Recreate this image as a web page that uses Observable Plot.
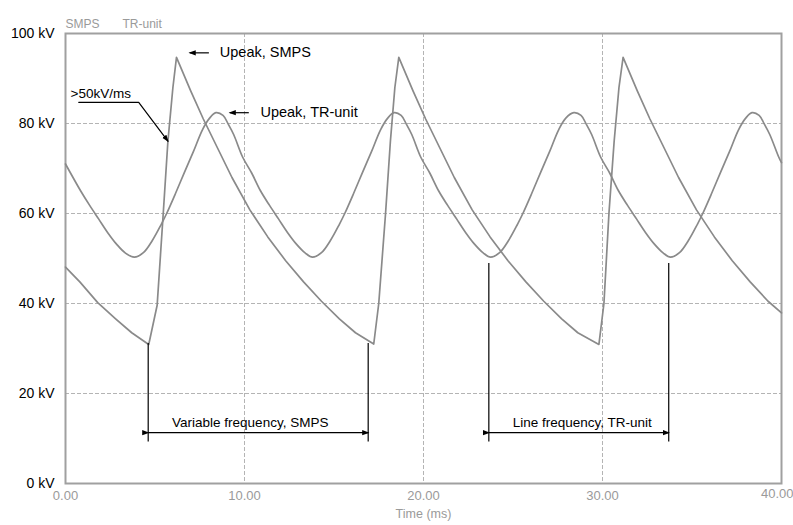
<!DOCTYPE html>
<html><head><meta charset="utf-8">
<script src="https://cdn.jsdelivr.net/npm/d3@7"></script>
<script src="https://cdn.jsdelivr.net/npm/@observablehq/plot@0.6"></script>
<style>body{margin:0;background:#fff;}</style>
</head><body><div id="chart"></div>
<script>
// ---- data ----
const smpsTime = [0, 0.8, 1.8, 2.8, 3.7, 4.65, 5.12, 5.46, 5.72, 6.0, 6.2, 7.0, 7.7, 8.5, 9.3, 10.3, 11.3, 12.3, 13.3, 14.3, 15.3, 16.2, 17.22, 17.5, 17.88, 18.15, 18.4, 18.62, 19.42, 20.12, 20.92, 21.72, 22.72, 23.72, 24.72, 25.72, 26.72, 27.72, 28.62, 29.8, 30.08, 30.36, 30.65, 30.92, 31.15, 31.95, 32.65, 33.45, 34.25, 35.25, 36.25, 37.25, 38.25, 39.25, 40];
const smpsKV = [48.1, 44.8, 40.2, 36.6, 33.5, 30.9, 39.6, 60, 76, 88, 94.7, 87.2, 81, 74.5, 68, 60.8, 54.8, 49.5, 44.8, 40.5, 36.6, 33.5, 31.0, 40, 60, 76, 88, 94.7, 87.2, 81, 74.5, 68, 60.8, 54.8, 49.5, 44.8, 40.5, 36.6, 33.5, 30.9, 40, 60, 76, 88, 94.7, 87.2, 81, 74.5, 68, 60.8, 54.8, 49.5, 44.8, 40.5, 37.9];

const trTime = [0, 0.85, 1.35, 1.85, 2.35, 2.85, 3.35, 3.85,
  4.35, 4.85, 5.35, 5.65, 6.15, 6.65, 7.15, 7.65, 8.05, 8.4,
  8.8, 9.1, 9.4, 9.9, 10.4, 10.9, 11.4, 11.9, 12.4, 12.9, 13.4, 13.8,
  14.3, 14.8, 15.3, 15.6, 16.1, 16.6, 17.1, 17.6, 18.0, 18.35,
  18.75, 19.05, 19.35, 19.85, 20.35, 20.85, 21.35, 21.85, 22.35, 22.85, 23.35, 23.75,
  24.25, 24.75, 25.25, 25.55, 26.05, 26.55, 27.05, 27.55, 27.95, 28.4,
  28.8, 29.1, 29.4, 29.9, 30.4, 30.9, 31.4, 31.9, 32.4, 32.9, 33.4, 33.8,
  34.3, 34.8, 35.3, 35.6, 36.1, 36.6, 37.1, 37.6, 38.0, 38.35,
  38.75, 39.05, 39.35, 39.85, 40];
const trKV = [71.0, 65, 61.8, 58.8, 55.8, 53.2, 51.2, 50.3,
  51.3, 54.0, 57.6, 60.0, 64.5, 69.2, 73.8, 78.6, 81.2, 82.4,
  81.8, 79.8, 77.5, 72.5, 69, 65, 61.8, 58.8, 55.8, 53.2, 51.2, 50.3,
  51.3, 54.0, 57.6, 60.0, 64.5, 69.2, 73.8, 78.6, 81.2, 82.4,
  81.8, 79.8, 77.5, 72.5, 69, 65, 61.8, 58.8, 55.8, 53.2, 51.2, 50.3,
  51.3, 54.0, 57.6, 60.0, 64.5, 69.2, 73.8, 78.6, 81.2, 82.4,
  81.8, 79.8, 77.5, 72.5, 69, 65, 61.8, 58.8, 55.8, 53.2, 51.2, 50.3,
  51.3, 54.0, 57.6, 60.0, 64.5, 69.2, 73.8, 78.6, 81.2, 82.4,
  81.8, 79.8, 77.5, 72.5, 71.3];

const xTicks = [0, 10, 20, 30, 40];
const yTicks = [0, 20, 40, 60, 80, 100];
const legendLabels = ["SMPS", "TR-unit"];
const xLabel = "Time (ms)";

// annotations (data coordinates)
const peakLabels = ["Upeak, SMPS", "Upeak, TR-unit"];
const peakArrowFrom = [8.01, 10.24];
const peakArrowTo = [6.94, 9.18];
const peakKV = [95.7, 82.4];
const peakLabelTime = [8.62, 10.89];

const slopeLabel = ">50kV/ms";
const slopeLabelTime = 0.28, slopeLabelKV = 86.7;
const slopeTime = [0.74, 4.09, 5.72];
const slopeKV = [84.7, 84.7, 76.1];

const spanLabels = ["Variable frequency, SMPS", "Line frequency, TR-unit"];
const spanStart = [4.62, 23.65];
const spanEnd = [16.91, 33.70];
const spanTopKV = [31.1, 48.9];
const spanBottomKV = 9.2;
const spanArrowKV = 11.3;
const spanLabelKV = 13.6;
const spanLabelTime = [10.32, 28.87];

// ---- build tables ----
const smps = smpsTime.map((t, i) => ({t, kV: smpsKV[i]}));
const tr = trTime.map((t, i) => ({t, kV: trKV[i]}));
const peaks = peakLabels.map((label, i) => ({label, x1: peakArrowFrom[i], x2: peakArrowTo[i], y: peakKV[i], tx: peakLabelTime[i]}));
const slope = slopeTime.map((t, i) => ({t, kV: slopeKV[i]}));
const spans = spanLabels.map((label, i) => ({label, a: spanStart[i], b: spanEnd[i], top: spanTopKV[i], tx: spanLabelTime[i]}));
const rules = spans.flatMap(s => [{x: s.a, top: s.top}, {x: s.b, top: s.top}]);
const xMax = xTicks[xTicks.length - 1];

const font = "'Liberation Sans', Arial, sans-serif";
const curveColor = "#8a8a8a";
const tickFmt = d => d.toFixed(2);

const chart = Plot.plot({
  width: 793, height: 525,
  marginTop: 33, marginRight: 12, marginBottom: 42, marginLeft: 65,
  style: {fontFamily: font, background: "#fff", overflow: "visible"},
  x: {domain: [0, 40]},
  y: {domain: [0, 100]},
  marks: [
    Plot.ruleX(xTicks.slice(1, -1), {stroke: "#b4b4b4", strokeWidth: 1, strokeDasharray: "4,2"}),
    Plot.ruleY(yTicks.slice(1, -1), {stroke: "#b4b4b4", strokeWidth: 1, strokeDasharray: "4,2"}),
    Plot.frame({stroke: "#a0a0a0", strokeWidth: 2}),
    Plot.axisX({ticks: xTicks.slice(0, -1), tickFormat: tickFmt, tickSize: 0, tickPadding: 7, label: null, color: "#9a9a9a", fontSize: 13}),
    Plot.text([xMax], {x: d => d, text: tickFmt, frameAnchor: "bottom", dy: 14, dx: 12, textAnchor: "end", fill: "#9a9a9a", fontSize: 13}),
    Plot.axisY({ticks: yTicks, tickFormat: d => `${d} kV`, tickSize: 0, tickPadding: 11, label: null, color: "#000", fontSize: 14}),
    Plot.text([xLabel], {frameAnchor: "bottom", dy: 34, fill: "#9a9a9a", fontSize: 12.5}),
    Plot.text([legendLabels[0]], {frameAnchor: "top-left", dy: -14, textAnchor: "start", fill: "#9a9a9a", fontSize: 12}),
    Plot.text([legendLabels[1]], {frameAnchor: "top-left", dx: 57, dy: -14, textAnchor: "start", fill: "#9a9a9a", fontSize: 12}),
    Plot.line(tr, {x: "t", y: "kV", stroke: curveColor, strokeWidth: 1.7, curve: "catmull-rom"}),
    Plot.line(smps, {x: "t", y: "kV", stroke: curveColor, strokeWidth: 1.7}),
    // peak annotations
    Plot.link(peaks, {x1: "x1", x2: "x2", y1: "y", y2: "y", stroke: "#000", strokeWidth: 1.2, markerEnd: "arrow"}),
    Plot.text(peaks, {x: "tx", y: "y", text: "label", textAnchor: "start", fill: "#000", fontSize: 14.5}),
    // slope annotation
    Plot.line(slope, {x: "t", y: "kV", stroke: "#000", strokeWidth: 1.2, markerEnd: "arrow"}),
    Plot.text([slopeLabel], {x: slopeLabelTime, y: slopeLabelKV, textAnchor: "start", fill: "#000", fontSize: 13.5}),
    // frequency spans
    Plot.ruleX(rules, {x: "x", y1: "top", y2: spanBottomKV, stroke: "#000", strokeWidth: 1.2}),
    Plot.link(spans, {x1: "a", x2: "b", y1: spanArrowKV, y2: spanArrowKV, stroke: "#000", strokeWidth: 1.2, markerStart: "arrow", markerEnd: "arrow"}),
    Plot.text(spans, {x: "tx", y: spanLabelKV, text: "label", fill: "#000", fontSize: 13.5})
  ]
});

// filled triangular arrowheads
chart.querySelectorAll("marker").forEach(m => {
  const c = m.getAttribute("stroke") || "#000";
  m.setAttribute("fill", c);
  m.setAttribute("stroke", "none");
  m.setAttribute("markerWidth", 10);
  m.setAttribute("markerHeight", 10);
  const p = m.querySelector("path");
  if (p) p.setAttribute("d", "M-5,-2.2L1,0L-5,2.2Z");
});

document.getElementById("chart").appendChild(chart);
</script>
</body></html>
